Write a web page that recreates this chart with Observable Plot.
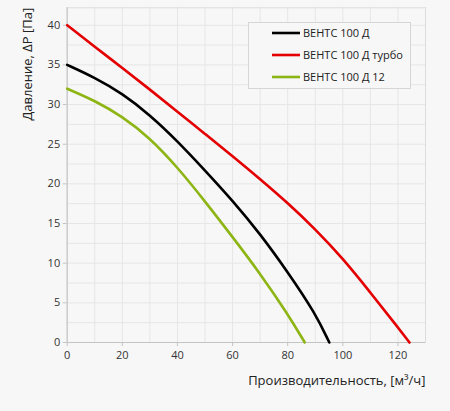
<!DOCTYPE html>
<html>
<head>
<meta charset="utf-8">
<script src="https://cdn.jsdelivr.net/npm/d3@7"></script>
<script src="https://cdn.jsdelivr.net/npm/@observablehq/plot@0.6"></script>
<style>
  html, body { margin: 0; padding: 0; background: #f7f7f7; }
  #chart { width: 450px; height: 411px; }
</style>
</head>
<body>
<div id="chart"></div>
<script>
// Series names and colors
const seriesNames = ["ВЕНТС 100 Д", "ВЕНТС 100 Д турбо", "ВЕНТС 100 Д 12"];
const seriesColors = ["#000000", "#e40000", "#8db514"];

// Flow (m³/h) and pressure (Pa) per series
const flowBlack = [0, 10, 20, 30, 40, 50, 60, 70, 80, 90, 95.1];
const pressBlack = [35, 33.4, 31.4, 28.7, 25.4, 21.7, 17.9, 13.7, 8.9, 3.7, 0];

const flowRed = [0, 10, 20, 30, 40, 50, 60, 70, 80, 90, 100, 110, 120, 124.2];
const pressRed = [40, 37.3, 34.6, 31.9, 29.1, 26.3, 23.5, 20.6, 17.6, 14.3, 10.6, 6.3, 1.9, 0];

const flowGreen = [0, 10, 20, 30, 40, 50, 60, 70, 80, 86.2];
const pressGreen = [32, 30.5, 28.5, 25.8, 22.1, 17.8, 13.3, 8.7, 3.6, 0];

// Tick labels
const xTicks = [0, 20, 40, 60, 80, 100, 120];
const yTicks = [0, 5, 10, 15, 20, 25, 30, 35, 40];
const xGrid = d3.range(0, 131, 10);
const yGrid = d3.range(0, 42.3, 2.5);

const xLabel = "Производительность, [м³/ч]";
const yLabel = "Давление, ∆P [Па]";

const series = [
  [seriesNames[0], flowBlack, pressBlack],
  [seriesNames[1], flowRed, pressRed],
  [seriesNames[2], flowGreen, pressGreen]
];
const data = series.flatMap(([name, qs, ps]) => qs.map((q, i) => ({series: name, q, p: ps[i]})));

const font = "'Open Sans', 'DejaVu Sans', sans-serif";

const chart = Plot.plot({
  width: 450,
  height: 411,
  marginLeft: 66.7,
  marginRight: 25,
  marginTop: 7.3,
  marginBottom: 69,
  style: {background: "#f7f7f7", fontFamily: font, fontSize: "11px", color: "#333"},
  x: {domain: [0, 130]},
  y: {domain: [0, 42.2]},
  color: {domain: seriesNames, range: seriesColors},
  marks: [
    Plot.gridX(xGrid, {stroke: "#e6e6e6", strokeOpacity: 1}),
    Plot.gridY(yGrid, {stroke: "#e6e6e6", strokeOpacity: 1}),
    Plot.frame({stroke: "#dcdcdc"}),
    Plot.ruleX([0], {stroke: "#c4c4c4"}),
    Plot.ruleY([0], {stroke: "#c4c4c4"}),
    Plot.axisX({ticks: xTicks, tickSize: 4, tickPadding: 5, label: null, stroke: "#c4c4c4", fill: "#333", fontSize: 11}),
    Plot.axisY({ticks: yTicks, tickSize: 4, tickPadding: 3, label: null, stroke: "#c4c4c4", fill: "#333", fontSize: 11}),
    Plot.line(data, {x: "q", y: "p", z: "series", stroke: "series", curve: "basis", strokeWidth: 2.6}),
    Plot.text([xLabel], {frameAnchor: "bottom-right", dy: 42.8, textAnchor: "end", fontSize: 13, fill: "#222"}),
    Plot.text([yLabel], {frameAnchor: "top-left", dx: -44.7, dy: 0, rotate: -90, textAnchor: "end", fontSize: 13, fill: "#222"})
  ]
});

// Legend drawn into the SVG
const svg = d3.select(chart);
const lg = svg.append("g").attr("font-family", font).attr("font-size", 11).attr("text-anchor", "start");
lg.append("rect").attr("x", 248.5).attr("y", 22.5).attr("width", 162).attr("height", 66)
  .attr("fill", "#f7f7f7").attr("stroke", "#d6d6d6");
seriesNames.forEach((name, i) => {
  const y = 33 + i * 22;
  lg.append("line").attr("x1", 272).attr("x2", 300).attr("y1", y).attr("y2", y)
    .attr("stroke", seriesColors[i]).attr("stroke-width", 2.6);
  lg.append("text").attr("x", 303).attr("y", y).attr("dy", "0.35em")
    .attr("text-anchor", "start").attr("fill", "#222").text(name);
});

document.getElementById("chart").appendChild(chart);
</script>
</body>
</html>
